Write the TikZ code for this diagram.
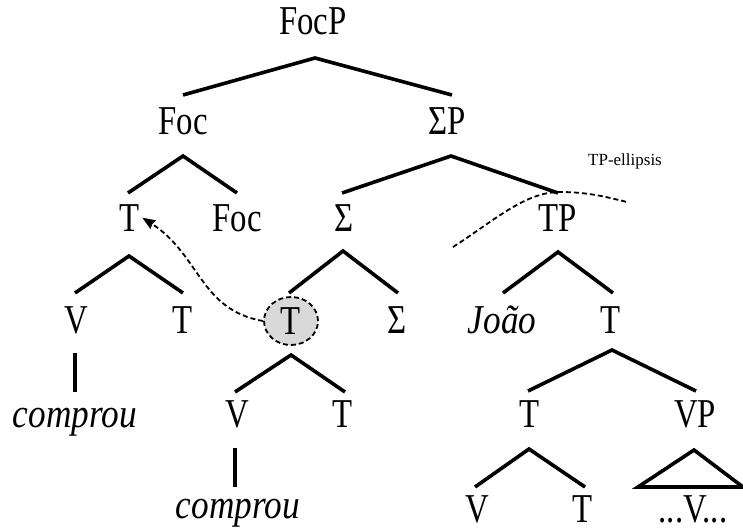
\documentclass[tikz,border=0pt]{standalone}
\usepackage{fontspec}
\setmainfont{Liberation Serif}[FakeStretch=0.8]
\newfontfamily\itf{Liberation Serif}[FakeStretch=0.86]
\newfontfamily\smallf{Liberation Serif}
\usetikzlibrary{shapes.geometric,arrows.meta}
\begin{document}
\begin{tikzpicture}[x=1pt,y=-1pt,
  lab/.style={anchor=base,inner sep=2pt,font=\fontsize{41}{41}\selectfont},
  itlab/.style={anchor=base,inner sep=2pt,font=\fontsize{41}{41}\selectfont\itf\itshape},
  br/.style={line width=3.6pt,line join=miter},
  mv/.style={line width=1.8pt,dash pattern=on 5pt off 3pt}]
\useasboundingbox (0,0) rectangle (743,530);

% labels
\node[lab] (focp) at (313,34) {FocP};
\node[lab] (foc) at (183,134) {Foc};
\node[lab] (sp) at (447,134) {ΣP};
\node[lab] (t1) at (130,231) {T};
\node[lab] (foc2) at (237,231) {Foc};
\node[lab] (sig1) at (344,231) {Σ};
\node[lab] (tp) at (558,231) {TP};
\node[lab] (v1) at (76,333) {V};
\node[lab] (t2) at (183,333) {T};
\node[ellipse,draw,mv,fill=gray!30,minimum width=54pt,minimum height=48pt,inner sep=0pt,
  font=\fontsize{41}{41}\selectfont] (tc) at (291,321) {T};
\node[lab] (sig2) at (397,333) {Σ};
\node[itlab] (joao) at (502,333) {João};
\node[lab] (t3) at (611,333) {T};
\node[itlab] (comp1) at (75,427) {comprou};
\node[lab] (v2) at (237,427) {V};
\node[lab] (t4) at (343,427) {T};
\node[lab] (t5) at (530,427) {T};
\node[lab] (vp) at (695,427) {VP};
\node[itlab] (comp2) at (238,518) {comprou};
\node[lab] (v3) at (477,522) {V};
\node[lab] (t6) at (583,522) {T};
\node[lab] (vdots) at (693,522) {...V...};
\node[anchor=base,inner sep=0pt,font=\fontsize{17}{17}\selectfont\smallf] (tpe) at (625,165) {TP-ellipsis};

% branch points
\coordinate (a1) at (315,58);  \coordinate (a1l) at (183,95);  \coordinate (a1r) at (452,95);
\coordinate (a2) at (183,156); \coordinate (a2l) at (128,193); \coordinate (a2r) at (237,193);
\coordinate (a3) at (451,156); \coordinate (a3l) at (342,193); \coordinate (a3r) at (558,193);
\coordinate (a4) at (129,256); \coordinate (a4l) at (75,293);  \coordinate (a4r) at (183,293);
\coordinate (a5) at (343,251); \coordinate (a5l) at (289,293); \coordinate (a5r) at (398,293);
\coordinate (a6) at (558,252); \coordinate (a6l) at (503,293); \coordinate (a6r) at (613,293);
\coordinate (a7) at (291,355); \coordinate (a7l) at (235,392); \coordinate (a7r) at (345,392);
\coordinate (a8) at (612,350); \coordinate (a8l) at (528,391); \coordinate (a8r) at (696,391);
\coordinate (a9) at (529,449); \coordinate (a9l) at (475,487); \coordinate (a9r) at (585,487);
\coordinate (tri) at (694,450); \coordinate (tril) at (638,487); \coordinate (trir) at (743,487);
\coordinate (l1t) at (75,353); \coordinate (l1b) at (75,392);
\coordinate (l2t) at (235,448); \coordinate (l2b) at (235,487);

\foreach \n in {a1,a2,a3,a4,a5,a6,a7,a8,a9}
  \draw[br] (\n l) -- (\n) -- (\n r);
\draw[br] (tri) -- (tril) -- (trir) -- cycle;
\draw[br] (l1t) -- (l1b);
\draw[br] (l2t) -- (l2b);

% ellipsis curve
\coordinate (e1) at (453,247);
\coordinate (e2) at (627,202);
\draw[mv] (e1) .. controls (495,220) and (525,192) .. (560,192)
               .. controls (590,192) and (610,198) .. (e2);

% movement arrow
\draw[mv,-{Stealth[length=13pt,width=10pt,inset=1pt]}] (tc.west) .. controls (200,310) and (200,255) .. (t1.east);
\end{tikzpicture}
\end{document}
